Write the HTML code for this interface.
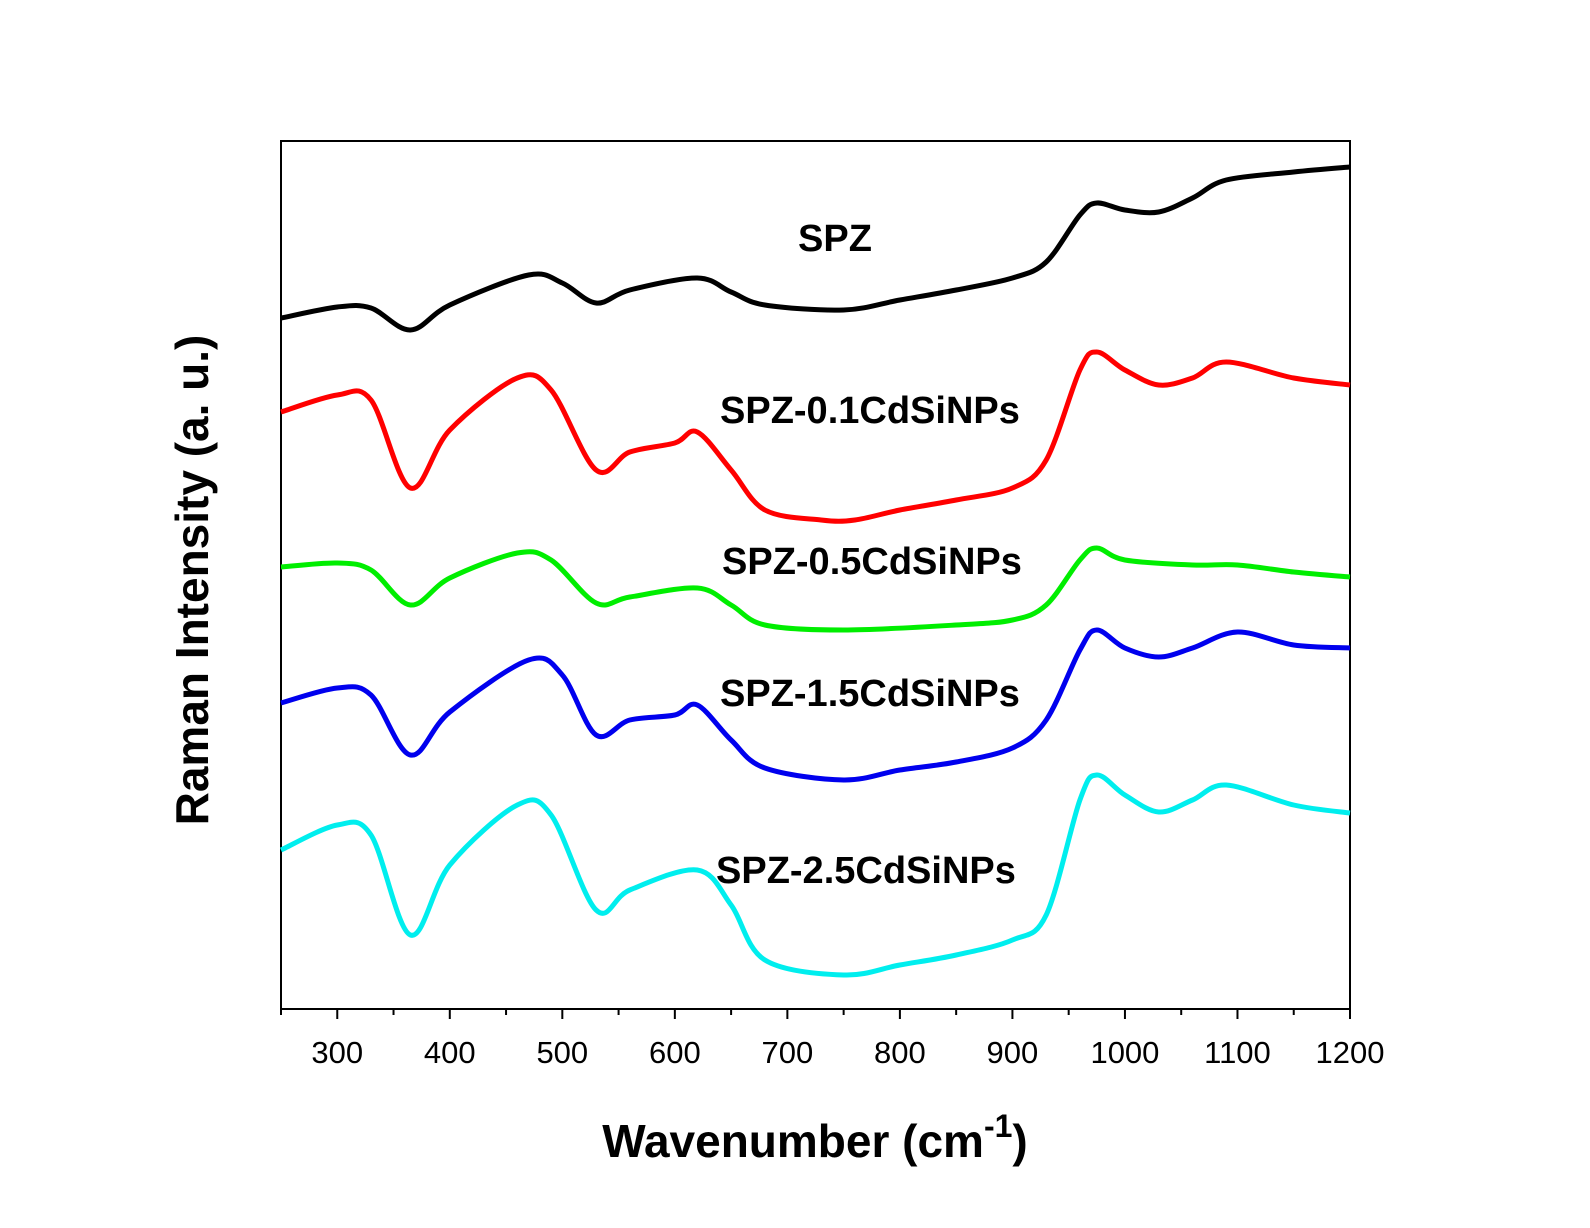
<!DOCTYPE html>
<html><head><meta charset="utf-8"><style>
html,body{margin:0;padding:0;background:#fff;}
svg{display:block;font-family:"Liberation Sans",Arial,sans-serif;}
</style></head><body>
<svg id="chart" width="1590" height="1228" viewBox="0 0 1590 1228" xmlns="http://www.w3.org/2000/svg">
<rect x="281" y="141" width="1069" height="868" fill="none" stroke="#000" stroke-width="2"/>
<g id="series"></g>
<g id="xticks"></g>
<g id="labels"></g>
<text x="815" y="1157" text-anchor="middle" font-size="46" font-weight="bold">Wavenumber (cm<tspan font-size="32" dy="-20">-1</tspan><tspan dy="20">)</tspan></text>
<text transform="translate(208,580) rotate(-90)" text-anchor="middle" font-size="46" font-weight="bold">Raman Intensity (a. u.)</text>
</svg>
<script>
const xMin = 250, xMax = 1200;
const xTicks = [300,400,500,600,700,800,900,1000,1100,1200];
const xMinorTicks = [250,350,450,550,650,750,850,950,1050,1150];
const seriesNames = ["SPZ","SPZ-0.1CdSiNPs","SPZ-0.5CdSiNPs","SPZ-1.5CdSiNPs","SPZ-2.5CdSiNPs"];
const seriesColors = ["#000000","#ff0000","#00ee00","#0000ee","#00eeee"];
// intensity (a.u.) values; intensity = 1009 - pixel row in original figure
const wnSPZ = [250,300,330,365,400,470,500,530,560,620,650,680,750,800,850,900,930,960,975,1000,1030,1060,1090,1150,1200];
const ySPZ = [691,702,701,679,704,734,726,706,719,731,717,704,699,709,719,731,747,794,806,799,797,811,829,837,842];
const wn01 = [250,300,330,365,400,460,490,530,560,600,620,650,680,730,760,800,850,900,930,960,975,1000,1030,1060,1090,1150,1200];
const y01 = [597,614,609,521,579,631,619,539,557,566,577,539,499,489,489,499,509,521,549,639,657,639,624,631,647,631,624];
const wn05 = [250,300,330,365,400,460,490,530,560,620,650,680,750,850,900,930,960,975,1000,1060,1100,1150,1200];
const y05 = [442,446,439,404,431,456,449,406,412,421,404,384,379,384,389,404,449,461,449,444,444,437,432];
const wn15 = [250,300,330,365,400,470,500,530,560,600,620,650,680,750,800,850,900,930,960,975,1000,1030,1060,1100,1150,1200];
const y15 = [306,321,314,254,297,349,334,274,289,294,304,269,241,229,239,247,261,289,359,379,361,352,361,377,364,361];
const wn25 = [250,300,330,365,400,460,490,530,560,620,650,680,750,800,850,900,930,960,975,1000,1030,1060,1090,1150,1200];
const y25 = [159,184,174,74,144,204,194,99,119,139,104,49,34,44,54,69,94,209,234,214,197,209,224,204,196];
const labelX = [835,720,722,720,716];
const labelY = [237,409,560,692,869];

const L=281,R=1350,B=1009;
function xs(v){return L+(v-xMin)/(xMax-xMin)*(R-L);}
function ys(v){return B-v;}
const NS="http://www.w3.org/2000/svg";
const sg=document.getElementById('series');
const allWn=[wnSPZ,wn01,wn05,wn15,wn25], allY=[ySPZ,y01,y05,y15,y25];
allWn.forEach((wn,i)=>{
  const pts=wn.map((w,j)=>[xs(w),ys(allY[i][j])]);
  let d='M'+pts[0][0].toFixed(1)+','+pts[0][1].toFixed(1);
  for(let j=0;j<pts.length-1;j++){
    const p0=pts[Math.max(0,j-1)],p1=pts[j],p2=pts[j+1],p3=pts[Math.min(pts.length-1,j+2)];
    const c1=[p1[0]+(p2[0]-p0[0])/6,p1[1]+(p2[1]-p0[1])/6];
    const c2=[p2[0]-(p3[0]-p1[0])/6,p2[1]-(p3[1]-p1[1])/6];
    d+='C'+c1[0].toFixed(1)+','+c1[1].toFixed(1)+' '+c2[0].toFixed(1)+','+c2[1].toFixed(1)+' '+p2[0].toFixed(1)+','+p2[1].toFixed(1);
  }
  const p=document.createElementNS(NS,'path');
  
  
  p.setAttribute('d',d);
  p.setAttribute('fill','none');
  p.setAttribute('stroke',seriesColors[i]);
  p.setAttribute('stroke-width','5');
  p.setAttribute('stroke-linejoin','round');
  sg.appendChild(p);
  const t=document.createElementNS(NS,'text');
  
  
  t.setAttribute('x',labelX[i]);t.setAttribute('y',labelY[i]+14);
  t.setAttribute('font-size','38');t.setAttribute('font-weight','bold');
  if(i===0) t.setAttribute('text-anchor','middle');
  t.textContent=seriesNames[i];
  document.getElementById('labels').appendChild(t);
});
const tg=document.getElementById('xticks');
xTicks.forEach(v=>{
  const l=document.createElementNS(NS,'line');
  
  
  l.setAttribute('x1',xs(v));l.setAttribute('x2',xs(v));l.setAttribute('y1',B);l.setAttribute('y2',B+10);
  l.setAttribute('stroke','#000');l.setAttribute('stroke-width','2');
  tg.appendChild(l);
  const t=document.createElementNS(NS,'text');
  
  
  t.setAttribute('x',xs(v));t.setAttribute('y',1063);
  t.setAttribute('text-anchor','middle');t.setAttribute('font-size','31');
  t.textContent=v;
  tg.appendChild(t);
});
xMinorTicks.forEach(v=>{
  const l=document.createElementNS(NS,'line');
  
  
  l.setAttribute('x1',xs(v));l.setAttribute('x2',xs(v));l.setAttribute('y1',B);l.setAttribute('y2',B+6);
  l.setAttribute('stroke','#000');l.setAttribute('stroke-width','2');
  tg.appendChild(l);
});
</script>
</body></html>
